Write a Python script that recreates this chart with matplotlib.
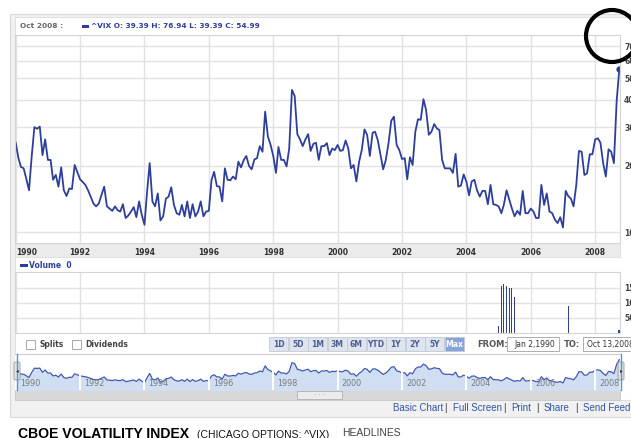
import matplotlib
matplotlib.use('Agg')
import matplotlib.pyplot as plt
import pandas as pd
from matplotlib.patches import Rectangle, Circle, FancyBboxPatch
from matplotlib.ticker import FixedLocator, FixedFormatter, NullLocator

plt.rcParams['font.family'] = ['DejaVu Sans']

W, H = 631, 438

# monthly ^VIX closes, Jan 1990 .. Oct 2008
vix_close = [
    25.5, 21.7, 19.8, 19.5, 17.5, 15.5, 22.0, 30.0, 29.5, 30.2, 22.4, 26.4,  # 1990
    21.3, 21.3, 17.3, 18.2, 16.1, 19.7, 15.5, 14.6, 15.8, 15.7, 20.2, 18.8,  # 1991
    17.4, 16.9, 16.4, 15.5, 14.5, 13.5, 13.1, 13.5, 14.8, 16.1, 13.1, 12.8,  # 1992
    12.5, 13.1, 12.6, 12.4, 13.4, 11.6, 11.9, 12.4, 13.0, 11.7, 13.8, 12.0,  # 1993
    10.8, 15.5, 20.6, 13.8, 13.1, 15.0, 11.3, 11.8, 14.2, 14.5, 16.0, 13.3,  # 1994
    12.2, 12.0, 13.3, 11.8, 13.8, 11.6, 13.4, 11.8, 12.4, 13.8, 11.8, 12.4,  # 1995
    12.5, 17.3, 18.8, 16.2, 16.1, 13.8, 19.5, 17.3, 17.2, 17.9, 17.4, 20.9,  # 1996
    19.7, 21.3, 22.2, 20.0, 19.3, 21.4, 21.7, 24.6, 23.2, 35.3, 27.2, 25.0,  # 1997
    22.2, 18.6, 24.4, 21.3, 21.3, 19.9, 24.0, 44.3, 41.6, 27.9, 26.4, 24.6,  # 1998
    26.4, 27.9, 23.4, 25.2, 25.5, 21.3, 24.6, 24.6, 25.4, 22.4, 24.0, 23.6,  # 1999
    24.9, 23.4, 23.6, 26.1, 24.0, 19.5, 20.2, 17.0, 20.9, 23.6, 29.3, 27.7,  # 2000
    22.2, 28.3, 28.6, 26.2, 22.5, 19.3, 21.3, 25.4, 32.1, 33.5, 24.9, 23.6,  # 2001
    21.5, 21.7, 17.4, 21.9, 20.2, 28.6, 32.6, 32.4, 40.2, 35.9, 27.7, 28.6,  # 2002
    31.0, 29.6, 29.1, 21.3, 19.5, 19.5, 19.5, 18.6, 22.7, 16.1, 16.3, 18.3,  # 2003
    17.0, 14.7, 17.0, 17.3, 15.5, 14.5, 15.4, 15.4, 13.4, 16.4, 13.4, 13.3,  # 2004
    13.1, 12.2, 13.3, 15.5, 14.1, 12.8, 11.8, 12.5, 12.0, 15.4, 12.2, 12.2,  # 2005
    12.8, 12.4, 11.6, 11.6, 16.4, 13.3, 15.0, 12.4, 12.2, 11.4, 11.0, 11.7,  # 2006
    10.5, 15.4, 14.6, 14.2, 13.1, 16.4, 23.4, 23.2, 18.2, 18.5, 22.6, 22.6,  # 2007
    26.4, 26.7, 25.5, 20.6, 17.9, 23.8, 23.2, 20.6, 39.4, 55.0,              # 2008
]
months = pd.date_range('1990-01-01', periods=len(vix_close), freq='MS')

# volume bars (only a few months have any)
vol_months = pd.to_datetime(['2005-01-01', '2005-02-01', '2005-03-01', '2005-04-01',
                             '2005-05-01', '2005-06-01', '2005-07-01', '2007-03-01',
                             '2008-10-01'])
vol_values = [23, 157, 163, 157, 149, 149, 119, 90, 10]

year_ticks = list(range(1990, 2009, 2))
price_ticks = [10, 20, 30, 40, 50, 60, 70]
vol_ticks = [50, 100, 150]
range_buttons = ['1D', '5D', '1M', '3M', '6M', 'YTD', '1Y', '2Y', '5Y', 'Max']
quote_open, quote_high, quote_low, quote_close = 39.39, 76.94, 39.39, 54.99

BLUE = '#2e3f9b'
GRID = '#e2e2e2'
LABEL = '#444444'

fig = plt.figure(figsize=(W / 100, H / 100), dpi=100)


def px_axes(x0, y0, x1, y1, z):
    return fig.add_axes([x0 / W, 1 - y1 / H, (x1 - x0) / W, (y1 - y0) / H], zorder=z)


# background / page furniture
bg = px_axes(0, 0, W, H, 0)
bg.set_xlim(0, W)
bg.set_ylim(H, 0)
bg.axis('off')
bg.add_patch(Rectangle((10, 14), 640, 403, facecolor='#f1f1f1', edgecolor='#d8d8d8', lw=0.8))
bg.add_patch(Rectangle((15, 17), 640, 383, facecolor='white', edgecolor='#e0e0e0', lw=0.8))
bg.add_patch(Rectangle((15, 243), 605, 14, facecolor='#ebebeb', edgecolor='#dddddd', lw=0.6))

bg.text(20, 26, 'Oct 2008 :', color='#666666', fontsize=5.3, fontweight='bold', va='center')
bg.add_patch(Rectangle((82, 24.5), 7, 3, facecolor=BLUE, edgecolor='none'))
bg.text(91, 26, '^VIX O: %.2f H: %.2f L: %.2f C: %.2f' % (quote_open, quote_high, quote_low, quote_close),
        color=BLUE, fontsize=5.3, fontweight='bold', va='center')
bg.text(18, 237, '\u00a9 2008 Yahoo! Inc.', color='#b5b5b5', fontsize=5, va='center')

bg.add_patch(Rectangle((20, 263.5), 8, 3, facecolor=BLUE, edgecolor='none'))
bg.text(29, 265, 'Volume  0', color=BLUE, fontsize=5.5, fontweight='bold', va='center')

# splits / dividends check boxes
bg.add_patch(Rectangle((26, 340), 9, 9, facecolor='white', edgecolor='#9a9a9a', lw=0.6))
bg.text(39, 344.5, 'Splits', color=LABEL, fontsize=5.5, fontweight='bold', va='center')
bg.add_patch(Rectangle((72, 340), 9, 9, facecolor='white', edgecolor='#9a9a9a', lw=0.6))
bg.text(85, 344.5, 'Dividends', color=LABEL, fontsize=5.5, fontweight='bold', va='center')

# range buttons
for i, lbl in enumerate(range_buttons):
    bx = 269 + i * 19.5
    active = lbl == 'Max'
    bg.add_patch(Rectangle((bx, 337), 19, 14, facecolor='#86a4da' if active else '#dfe5ee',
                           edgecolor='#c2c9d4', lw=0.6))
    bg.text(bx + 9.5, 344.5, lbl, color='white' if active else '#4d5f8f', fontsize=5.5,
            fontweight='bold', ha='center', va='center')

bg.text(477, 344.5, 'FROM:', color='#555555', fontsize=6, fontweight='bold', va='center')
bg.add_patch(Rectangle((507, 337), 52, 14, facecolor='white', edgecolor='#a0a0a0', lw=0.6))
bg.text(555, 344.5, 'Jan 2,1990', color='#333333', fontsize=5.5, ha='right', va='center')
bg.text(564, 344.5, 'TO:', color='#555555', fontsize=6, fontweight='bold', va='center')
bg.add_patch(Rectangle((583, 337), 60, 14, facecolor='white', edgecolor='#a0a0a0', lw=0.6))
bg.text(587, 344.5, 'Oct 13,2008', color='#333333', fontsize=5.5, va='center')

# scrollbar under navigator
bg.add_patch(Rectangle((15, 390), 605, 10, facecolor='#d8d8d8', edgecolor='#c8c8c8', lw=0.6))
bg.add_patch(Rectangle((297, 391), 45, 8, facecolor='#ececec', edgecolor='#b0b0b0', lw=0.6))
bg.text(319.5, 395, '\u00b7 \u00b7 \u00b7', color='#999999', fontsize=5, ha='center', va='center')

# footer links
link_font = ['Liberation Sans', 'DejaVu Sans']
for lx, txt, col in [(393, 'Basic Chart', '#3355a5'), (444, '|', '#333333'),
                     (453, 'Full Screen', '#3355a5'), (503, '|', '#333333'),
                     (511, 'Print', '#3355a5'), (536, '|', '#333333'),
                     (544, 'Share', '#3355a5'), (575, '|', '#333333'),
                     (583, 'Send Feedback', '#3355a5')]:
    bg.text(lx, 408, txt, color=col, fontsize=7, family=link_font, va='center')

bg.text(18, 438, 'CBOE VOLATILITY INDEX', color='black', fontsize=10.1, fontweight='bold',
        family=link_font, va='baseline')
bg.text(197, 438, '(CHICAGO OPTIONS: ^VIX)', color='#111111', fontsize=7.5,
        family=link_font, va='baseline')
bg.text(342, 436, 'HEADLINES', color='#444444', fontsize=7.5, family=link_font, va='baseline')

xlim = (months[0] - pd.Timedelta(days=8), months[-1] + pd.Timedelta(days=8))
year_dates = [pd.Timestamp('%d-01-01' % y) for y in year_ticks]


def style_grid(ax):
    ax.set_facecolor('white')
    ax.grid(True, color=GRID, lw=1)
    ax.set_axisbelow(True)
    for s in ax.spines.values():
        s.set_color('#d4d4d4')
        s.set_linewidth(0.8)


# main price panel
ax = px_axes(15, 35, 620, 243, 1)
ax.plot(months, vix_close, color=BLUE, lw=1.3, solid_joinstyle='round')
ax.plot(months[-1:], vix_close[-1:], 'o', ms=3.5, color=BLUE)
ax.set_yscale('log')
ax.set_ylim(8.93, 78.7)
ax.set_xlim(xlim)
ax.yaxis.set_major_locator(FixedLocator(price_ticks))
ax.yaxis.set_major_formatter(FixedFormatter([str(v) for v in price_ticks]))
ax.yaxis.set_minor_locator(NullLocator())
ax.yaxis.tick_right()
ax.tick_params(axis='y', length=0, pad=3, labelsize=5.5, labelcolor=LABEL)
ax.set_xticks(year_dates)
ax.set_xticklabels([str(y) for y in year_ticks])
ax.tick_params(axis='x', length=0, pad=3.5, labelsize=5.5, labelcolor='#333333')
for t in ax.get_xticklabels() + ax.get_yticklabels():
    t.set_fontweight('bold')
ax.get_xticklabels()[0].set_ha('left')
style_grid(ax)

# volume panel
axv = px_axes(15, 272, 620, 333, 1)
axv.bar(vol_months, vol_values, width=[10] * 8 + [30], color=BLUE, align='center')
axv.set_xlim(xlim)
axv.set_ylim(0, 203)
axv.set_yticks(vol_ticks)
axv.set_yticklabels([str(v) for v in vol_ticks])
axv.yaxis.tick_right()
axv.tick_params(axis='y', length=0, pad=3, labelsize=5.5, labelcolor=LABEL)
for t in axv.get_yticklabels():
    t.set_fontweight('bold')
axv.set_xticks(year_dates)
axv.tick_params(axis='x', length=0, labelbottom=False)
style_grid(axv)

# navigator strip
axn = px_axes(15, 354, 620, 390, 1)
axn.fill_between(months, vix_close, 1, color='#cfdff1', lw=0)
axn.plot(months, vix_close, color='#4257b0', lw=0.9)
axn.set_yscale('log')
axn.set_ylim(6.4, 82)
axn.set_xlim(xlim)
for d, y in zip(year_dates, year_ticks):
    axn.axvline(d, color='white', lw=1.4)
    axn.annotate(str(y), xy=(d, 0.19), xycoords=('data', 'axes fraction'), xytext=(3, 0),
                 textcoords='offset points', color='#7a7a7a', fontsize=5.8, va='center')
axn.set_xticks([])
axn.set_yticks([])
axn.yaxis.set_minor_locator(NullLocator())
for s in axn.spines.values():
    s.set_visible(False)
axn.spines['top'].set_visible(True)
axn.spines['top'].set_color('#cccccc')

# overlay: navigator handles and the hand drawn circle
top = px_axes(0, 0, W, H, 5)
top.set_xlim(0, W)
top.set_ylim(H, 0)
top.axis('off')
for hx in [17, 621]:
    top.plot([hx, hx], [354, 390], color='#3fa0e0', lw=1)
    top.add_patch(FancyBboxPatch((hx - 3, 362), 6, 18, boxstyle='round,pad=0,rounding_size=1.5',
                                 facecolor='#e2e2e2', edgecolor='#9a9a9a', lw=0.6))
top.text(17, 371, '\u25c2', fontsize=4, color='#333333', ha='center', va='center')
top.text(621, 371, '\u25b8', fontsize=4, color='#333333', ha='center', va='center')
top.add_patch(Circle((612, 36), 26, fill=False, edgecolor='black', lw=3))

fig.savefig('out.png', dpi=100)
